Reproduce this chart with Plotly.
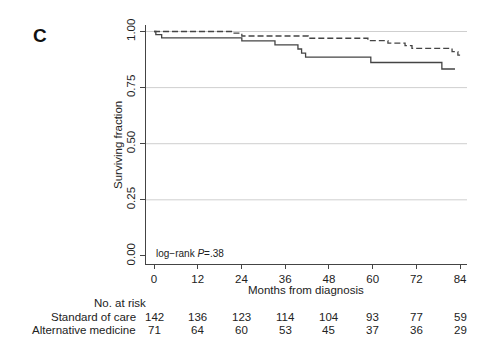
import plotly.graph_objects as go

# ---- data ----
months_ticks = [0, 12, 24, 36, 48, 60, 72, 84]
y_ticks = [0.0, 0.25, 0.5, 0.75, 1.0]
y_ticktext = ["0.00", "0.25", "0.50", "0.75", "1.00"]
grid_vals = [0.25, 0.5, 0.75, 1.0]

soc_t = [0, 21.7, 24.1, 42.3, 58.7, 64.2, 68.9, 70.8, 81.8, 83.4, 84.0]
soc_s = [1.0, 0.993, 0.980, 0.970, 0.959, 0.948, 0.937, 0.925, 0.910, 0.895, 0.895]

alt_t = [0, 0.5, 2.1, 24.1, 33.2, 39.5, 40.5, 41.6, 59.5, 79.0, 82.6]
alt_s = [1.0, 0.986, 0.972, 0.958, 0.940, 0.922, 0.904, 0.886, 0.862, 0.833, 0.833]

risk_labels = ["Standard of care", "Alternative medicine"]
risk_soc = [142, 136, 123, 114, 104, 93, 77, 59]
risk_alt = [71, 64, 60, 53, 45, 37, 36, 29]

FONT = "Liberation Sans, Arial, sans-serif"
TXT = "#222222"
LINE = "#444444"
FS = 11.5

fig = go.Figure()
fig.add_trace(go.Scatter(x=soc_t, y=soc_s, mode="lines", line_shape="hv",
                         line=dict(color=LINE, width=1.3, dash="6px,3px"),
                         name="Standard of care", showlegend=False))
fig.add_trace(go.Scatter(x=alt_t, y=alt_s, mode="lines", line_shape="hv",
                         line=dict(color=LINE, width=1.3),
                         name="Alternative medicine", showlegend=False))

for g in grid_vals:
    fig.add_shape(type="line", xref="paper", x0=0, x1=1, yref="y", y0=g, y1=g,
                  line=dict(color="#cfcfcf", width=1), layer="below")

# plot-area geometry (for paper-coordinate placement)
L, R, T, B = 146, 467, 25, 264
PH = B - T
PW = R - L

def py(pix):
    return (B - pix) / PH

def px(pix):
    return (pix - L) / PW

ann = []
ann.append(dict(text="Months from diagnosis", xref="paper", x=px(306),
                yref="paper", y=py(290), showarrow=False, xanchor="center", yanchor="middle",
                font=dict(size=FS, color=TXT, family=FONT)))
ann.append(dict(text="Surviving fraction", xref="paper", x=px(118), yref="paper", y=py(145),
                textangle=-90, showarrow=False, xanchor="center", yanchor="middle",
                font=dict(size=FS, color=TXT, family=FONT)))
ann.append(dict(text="log−rank <i>P</i>=.38", xref="paper", x=px(154), yref="paper", y=py(253),
                showarrow=False, xanchor="left", yanchor="middle",
                font=dict(size=10, color=TXT, family=FONT)))
ann.append(dict(text="<b>C</b>", xref="paper", x=px(40), yref="paper", y=py(35),
                showarrow=False, xanchor="center", yanchor="middle",
                font=dict(size=19, color="#111111", family=FONT)))
ann.append(dict(text="No. at risk", xref="paper", x=px(148), yref="paper", y=py(303),
                showarrow=False, xanchor="right", yanchor="middle",
                font=dict(size=FS, color=TXT, family=FONT)))
for lab, vals, ypix in [(risk_labels[0], risk_soc, 317), (risk_labels[1], risk_alt, 330)]:
    ann.append(dict(text=lab, xref="paper", x=px(138), yref="paper", y=py(ypix),
                    showarrow=False, xanchor="right", yanchor="middle",
                    font=dict(size=FS, color=TXT, family=FONT)))
    for m, v in zip(months_ticks, vals):
        ann.append(dict(text=str(v), xref="x", x=m, yref="paper", y=py(ypix),
                        showarrow=False, xanchor="center", yanchor="middle",
                        font=dict(size=FS, color=TXT, family=FONT)))

fig.update_layout(
    width=500, height=351,
    margin=dict(l=L, r=500 - R, t=T, b=351 - B),
    paper_bgcolor="white", plot_bgcolor="white",
    font=dict(family=FONT, size=FS, color=TXT),
    annotations=ann,
    xaxis=dict(range=[-2.2, 85.9], tickvals=months_ticks, ticks="outside", ticklen=4,
               tickcolor=LINE, showline=True, linecolor=LINE, linewidth=1,
               showgrid=False, zeroline=False, tickfont=dict(size=FS, color=TXT)),
    yaxis=dict(range=[-0.036, 1.029], tickvals=y_ticks, ticktext=y_ticktext, tickangle=-90,
               ticks="outside", ticklen=5, tickcolor=LINE, showline=True, linecolor=LINE,
               linewidth=1, showgrid=False, zeroline=False, tickfont=dict(size=FS, color=TXT)),
)

fig.write_html("out.html")
